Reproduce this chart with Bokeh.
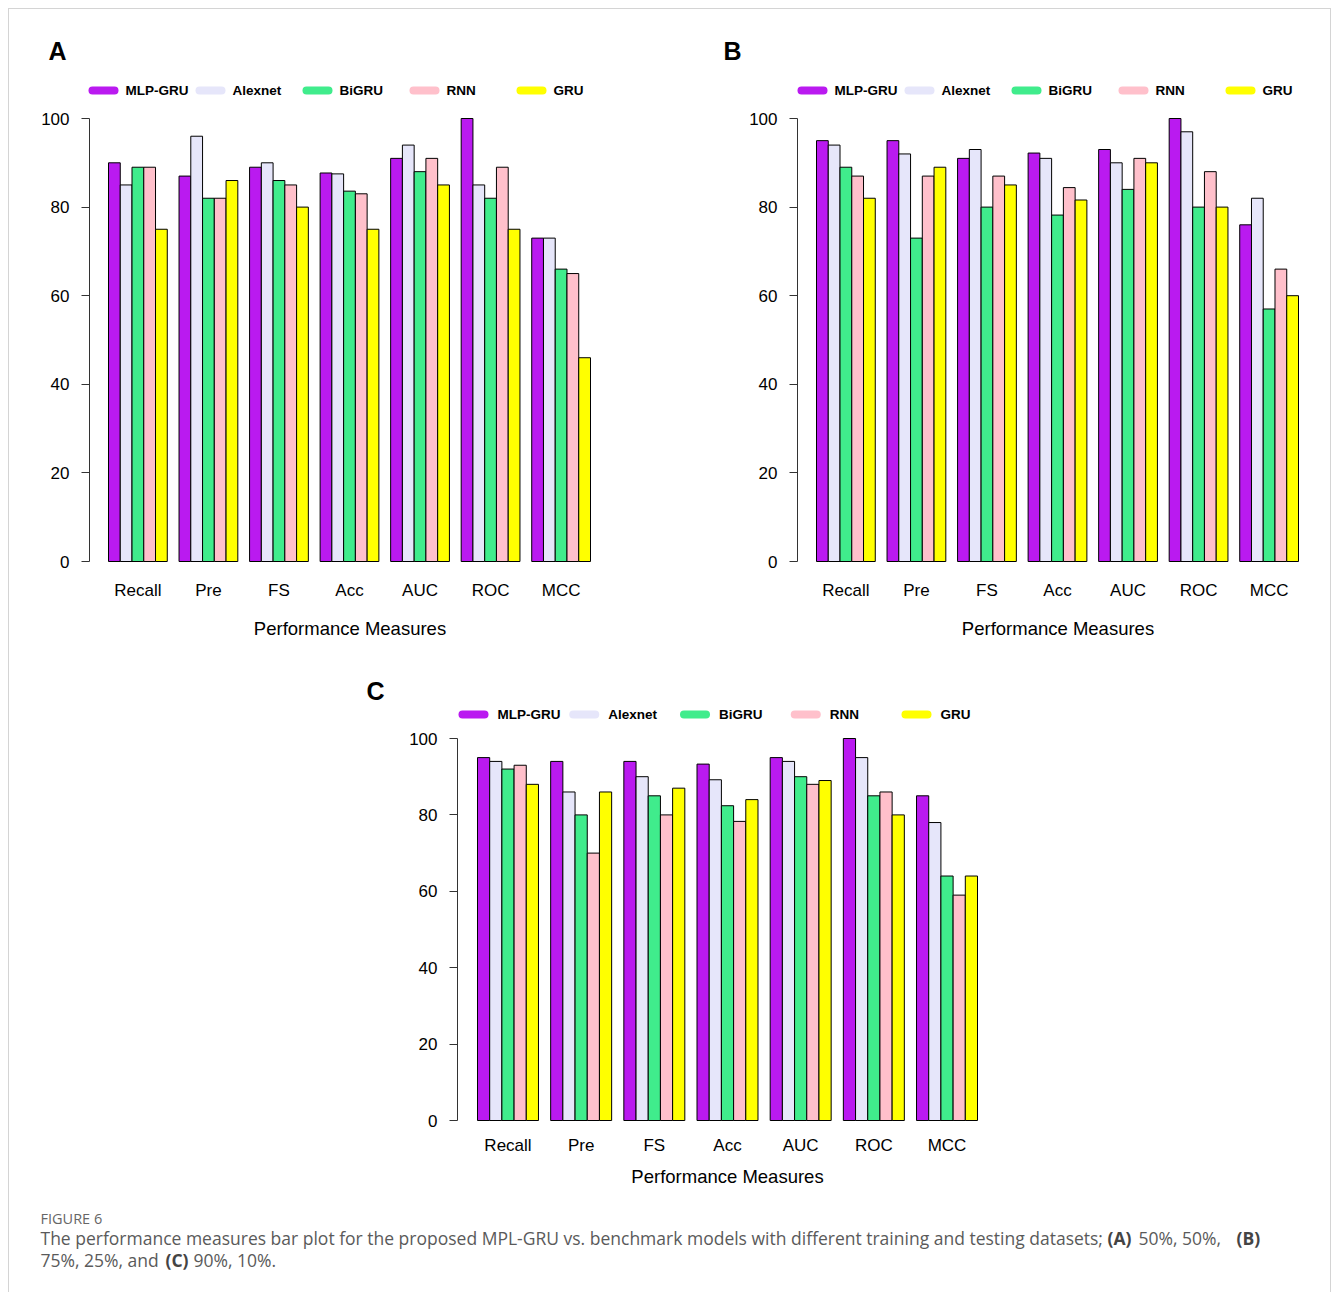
from bokeh.plotting import figure
from bokeh.models import Range1d, FixedTicker
from bokeh.layouts import column, row
from bokeh.embed import file_html
from bokeh.resources import INLINE
from bokeh.core.properties import value

# ---------------- data ----------------
categories = ["Recall", "Pre", "FS", "Acc", "AUC", "ROC", "MCC"]
models = ["MLP-GRU", "Alexnet", "BiGRU", "RNN", "GRU"]
colors = ["#BA1AF0", "#E6E6FA", "#40EC8C", "#FFC0CB", "#FFFF00"]
y_ticks = [0, 20, 40, 60, 80, 100]
x_title = "Performance Measures"

# Panel A (50% / 50%)
a_mlp_gru = [90, 87, 89, 87.7, 91, 100, 73]
a_alexnet = [85, 96, 90, 87.5, 94, 85, 73]
a_bigru = [89, 82, 86, 83.6, 88, 82, 66]
a_rnn = [89, 82, 85, 83, 91, 89, 65]
a_gru = [75, 86, 80, 75, 85, 75, 46]

# Panel B (75% / 25%)
b_mlp_gru = [95, 95, 91, 92.2, 93, 100, 76]
b_alexnet = [94, 92, 93, 91, 90, 97, 82]
b_bigru = [89, 73, 80, 78.2, 84, 80, 57]
b_rnn = [87, 87, 87, 84.4, 91, 88, 66]
b_gru = [82, 89, 85, 81.6, 90, 80, 60]

# Panel C (90% / 10%)
c_mlp_gru = [95, 94, 94, 93.3, 95, 100, 85]
c_alexnet = [94, 86, 90, 89.2, 94, 95, 78]
c_bigru = [92, 80, 85, 82.4, 90, 85, 64]
c_rnn = [93, 70, 80, 78.3, 88, 86, 59]
c_gru = [88, 86, 87, 84, 89, 80, 64]

caption_head = "FIGURE 6"
caption_l1 = "The performance measures bar plot for the proposed MPL-GRU vs. benchmark models with different training and testing datasets;"
caption_a = "(A)"
caption_a_txt = "50%, 50%,"
caption_b = "(B)"
caption_l2 = "75%, 25%, and"
caption_c = "(C)"
caption_c_txt = "90%, 10%."

FONT = "Liberation Sans"
N_GROUPS = len(categories)
N_SER = len(models)
GROUP = N_SER + 1  # R barplot: one bar-width gap before each group

LEFT = 9      # page x of content (after 8px margin + 1px border)
RIGHT = 1330  # page x of content right edge
FULL_W = RIGHT - LEFT


def base_fig(width, height, xr, yr, **kw):
    p = figure(width=width, height=height, x_range=xr, y_range=yr,
               toolbar_location=None, output_backend="svg", title=None,
               **kw)
    p.frame_align = False
    p.outline_line_color = None
    p.background_fill_color = "white"
    p.border_fill_color = "white"
    p.xgrid.visible = False
    p.ygrid.visible = False
    return p


def strip(top, bottom):
    """A full-width figure whose data coordinates are page pixels."""
    p = base_fig(FULL_W, bottom - top, Range1d(LEFT, RIGHT),
                 Range1d(bottom, top), min_border=0)
    p.axis.visible = False
    return p


def add_legend_and_letter(s, letter, letter_pos, key_x0, step, text_off, y):
    key_left = [key_x0 + i * step for i in range(N_SER)]
    s.segment(x0=[k + 4 for k in key_left], x1=[k + 26 for k in key_left],
              y0=[y] * N_SER, y1=[y] * N_SER, line_color=colors,
              line_width=8, line_cap="round")
    s.text(x=[k + text_off for k in key_left], y=[y] * N_SER, text=models,
           text_font=value(FONT), text_font_size="13.5px",
           text_font_style="bold", text_color="black",
           text_baseline="middle", text_align="left")
    s.text(x=[letter_pos[0]], y=[letter_pos[1]], text=[letter],
           text_font=value(FONT), text_font_size="25px",
           text_font_style="bold", text_color="black",
           text_baseline="middle", text_align="center")


def make_panel(series, page_left, page_top, width, height,
               fl, fr, fb, bar_left, bar_right, zero_px, hundred_px,
               lab_standoff, title_standoff):
    ft = page_top
    xppu = (bar_right - bar_left) / (N_GROUPS * GROUP - 1)
    x0 = 1 - (bar_left - fl) / xppu
    x1 = N_GROUPS * GROUP + (fr - bar_right) / xppu
    yppu = (zero_px - hundred_px) / 100.0
    y0 = -(fb - zero_px) / yppu
    y1 = 100 + (hundred_px - ft) / yppu

    p = base_fig(width, height, Range1d(x0, x1), Range1d(y0, y1),
                 min_border_left=fl - page_left,
                 min_border_right=page_left + width - fr,
                 min_border_top=0,
                 min_border_bottom=page_top + height - fb)

    for j, (col, vals) in enumerate(zip(colors, series)):
        xs = [1 + g * GROUP + j + 0.5 for g in range(N_GROUPS)]
        p.vbar(x=xs, top=vals, bottom=0, width=1, fill_color=col,
               line_color="black", line_width=1)

    ya = p.yaxis[0]
    ya.ticker = FixedTicker(ticks=y_ticks)
    ya.bounds = (0, 100)
    ya.axis_line_color = "#333333"
    ya.major_tick_line_color = "#333333"
    ya.major_tick_in = 0
    ya.major_tick_out = 8
    ya.minor_tick_line_color = None
    ya.major_label_text_font = FONT
    ya.major_label_text_font_size = "17px"
    ya.major_label_text_color = "black"
    ya.major_label_standoff = 12

    centers = [1 + g * GROUP + N_SER / 2.0 for g in range(N_GROUPS)]
    xa = p.xaxis[0]
    xa.ticker = FixedTicker(ticks=centers)
    xa.major_label_overrides = {c: cat for c, cat in zip(centers, categories)}
    xa.axis_line_color = None
    xa.major_tick_line_color = None
    xa.minor_tick_line_color = None
    xa.major_tick_out = 0
    xa.major_tick_in = 0
    xa.major_label_text_font = FONT
    xa.major_label_text_font_size = "17px"
    xa.major_label_text_color = "black"
    xa.major_label_standoff = lab_standoff
    xa.axis_label = x_title
    xa.axis_label_text_font = FONT
    xa.axis_label_text_font_size = "18.5px"
    xa.axis_label_text_font_style = "normal"
    xa.axis_label_text_color = "black"
    xa.axis_label_standoff = title_standoff
    return p


# --- top strip: letters A, B and legends
s1 = strip(LEFT, 100)
add_legend_and_letter(s1, "A", (57, 50), key_x0=88, step=107, text_off=37, y=90)
add_legend_and_letter(s1, "B", (732, 50), key_x0=797, step=107, text_off=37, y=90)

pA = make_panel([a_mlp_gru, a_alexnet, a_bigru, a_rnn, a_gru],
                page_left=LEFT, page_top=100, width=640 - LEFT, height=550,
                fl=89, fr=610, fb=579, bar_left=108, bar_right=590,
                zero_px=561, hundred_px=118, lab_standoff=1, title_standoff=15)
pB = make_panel([b_mlp_gru, b_alexnet, b_bigru, b_rnn, b_gru],
                page_left=640, page_top=100, width=RIGHT - 640, height=550,
                fl=797, fr=1318, fb=579, bar_left=816, bar_right=1298,
                zero_px=561, hundred_px=118, lab_standoff=1, title_standoff=15)

# --- middle strip: letter C and legend
s2 = strip(650, 722)
add_legend_and_letter(s2, "C", (375, 690), key_x0=458, step=110.75, text_off=39, y=714)

pC = make_panel([c_mlp_gru, c_alexnet, c_bigru, c_rnn, c_gru],
                page_left=LEFT, page_top=722, width=FULL_W, height=474,
                fl=457, fr=997, fb=1135, bar_left=477, bar_right=977,
                zero_px=1120, hundred_px=738, lab_standoff=0, title_standoff=8)

# --- caption
cap = strip(1196, 1292)
CF = value("Open Sans")
GREY = "#5a5a5a"
cap.text(x=[40], y=[1218], text=[caption_head], text_font=CF,
         text_font_size="14.5px", text_color="#666666", text_baseline="middle")
cap.text(x=[40, 1138, 40, 193], y=[1237, 1237, 1259, 1259],
         text=[caption_l1, caption_a_txt, caption_l2, caption_c_txt],
         text_font=CF, text_font_size="17.5px", text_color=GREY,
         text_baseline="middle")
cap.text(x=[1107, 1236, 165], y=[1237, 1237, 1259],
         text=[caption_a, caption_b, caption_c], text_font=CF,
         text_font_size="17.5px", text_font_style="bold", text_color="#444444",
         text_baseline="middle")

border = "1px solid #d4d4d4"
layout = column(s1, row(pA, pB), s2, pC, cap,
                styles={"margin": "8px 0 0 8px", "border-top": border,
                        "border-left": border, "border-right": border})

with open("out.html", "w") as f:
    f.write(file_html(layout, INLINE))
